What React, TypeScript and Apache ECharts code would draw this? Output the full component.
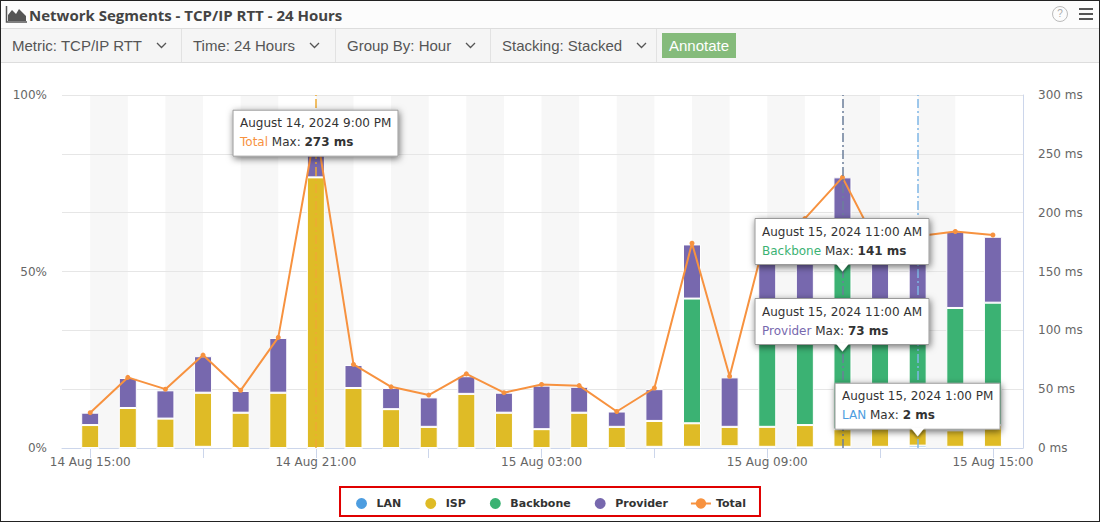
import React, { useEffect, useRef } from "react";
import * as echarts from "echarts";

// hour offsets from 14 Aug 15:00 (one bar per hour, 25 bars)
const hours = [0, 1, 2, 3, 4, 5, 6, 7, 8, 9, 10, 11, 12, 13, 14, 15, 16, 17, 18, 19, 20, 21, 22, 23, 24];

// stacked segments, in ms
const lan = [0, 0, 0, 1, 0, 0, 0, 0, 0, 0, 0, 0, 0, 0, 0, 1, 1, 1.5, 1, 0.5, 1, 1, 2, 1, 1];
const isp = [19.5, 34, 25, 46, 30, 47, 230, 51, 33, 18, 46, 30, 16, 30, 18, 22, 20, 16.5, 17, 19, 15, 17, 16, 14, 18.5];
const backbone = [0, 0, 0, 0, 0, 0, 0, 0, 0, 0, 0, 0, 0, 0, 0, 0, 106, 0, 100, 105, 141, 92, 97, 104, 104];
const provider = [10.5, 25.5, 24, 31, 18.5, 46.5, 43, 19.5, 18, 25, 15, 17, 37, 22, 13, 27, 46, 42, 67, 70, 73, 58, 65, 65, 56];
const total = [30, 60, 50, 79, 49, 94, 273, 71, 52, 45, 63, 47, 54, 53, 31, 51, 174, 61, 185, 195, 230, 168, 180, 184, 181];

// x-axis ticks / labels
const tickHours = [0, 3, 6, 9, 12, 15, 18, 21, 24];
const labelHours = [0, 6, 12, 18, 24];
const xLabels = ["14 Aug 15:00", "14 Aug 21:00", "15 Aug 03:00", "15 Aug 09:00", "15 Aug 15:00"];

// left axis labels (percent) on the ms scale
const leftLabelValues = [0, 150, 300];
const leftLabels = ["0%", "50%", "100%"];

// alternating shaded hour bands
const bands = [[0, 1], [2, 3], [4, 5], [6, 7], [8, 9], [10, 11], [12, 13], [14, 15], [16, 17], [18, 19], [20, 21], [22, 23]];

// highlighted hours (vertical dash-dot lines)
const markHours = [6, 20, 22];

const C = {
  lan: "#4d9de0",
  isp: "#dfbb26",
  backbone: "#3bb273",
  provider: "#7768ae",
  total: "#f7923f",
};

// pinned tooltips: hour, anchor value (ms), date text, series, value text
const tips = [
  { hour: 6, anchor: 248, date: "August 14, 2024 9:00 PM", series: "Total", color: C.total, value: "273 ms", arrow: false },
  { hour: 20, anchor: 150, date: "August 15, 2024 11:00 AM", series: "Backbone", color: C.backbone, value: "141 ms", arrow: true },
  { hour: 20, anchor: 82, date: "August 15, 2024 11:00 AM", series: "Provider", color: C.provider, value: "73 ms", arrow: true },
  { hour: 22, anchor: 10, date: "August 15, 2024 1:00 PM", series: "LAN", color: C.lan, value: "2 ms", arrow: true },
];

const FONT = "DejaVu Sans";

function Chevron() {
  return (
    <svg width="11" height="7" style={{ marginLeft: 14, flex: "none" }}>
      <polyline points="1,1 5.5,5.5 10,1" fill="none" stroke="#555" strokeWidth="1.3" />
    </svg>
  );
}

function Chart() {
  const elRef = useRef<HTMLDivElement | null>(null);

  useEffect(() => {
    if (!elRef.current) return;
    const chart = echarts.init(elRef.current, null, { renderer: "svg" });

    // value first so the stack runs along y
    const bar = (name: string, data: number[], color: string) => ({
      name,
      type: "bar",
      stack: "rtt",
      barWidth: 18,
      z: 2,
      encode: { x: 1, y: 0 },
      itemStyle: { color, borderColor: "#fff", borderWidth: 1 },
      data: hours.map((h, i) => [data[i], h]),
    });

    const option: any = {
      animation: false,
      textStyle: { fontFamily: FONT },
      grid: { left: 61, right: 76, top: 32, bottom: 73 },
      xAxis: {
        type: "value",
        min: -0.75,
        max: 24.8,
        z: 1,
        axisLine: { lineStyle: { color: "#ccd6eb" } },
        axisTick: { show: true, length: 10, customValues: tickHours, lineStyle: { color: "#ccd6eb" } },
        axisLabel: {
          customValues: labelHours,
          color: "#666",
          fontSize: 12,
          margin: 8,
          formatter: (v: number) => xLabels[labelHours.indexOf(v)] ?? "",
        },
        splitLine: { show: false },
      },
      yAxis: [
        {
          type: "value",
          min: 0,
          max: 300,
          interval: 50,
          z: 1,
          axisLine: { show: false },
          axisTick: { show: false },
          axisLabel: {
            color: "#666",
            fontSize: 12,
            margin: 15,
            formatter: (v: number) => {
              const i = leftLabelValues.indexOf(v);
              return i >= 0 ? leftLabels[i] : "";
            },
          },
          splitLine: { lineStyle: { color: "#e6e6e6" } },
        },
        {
          type: "value",
          min: 0,
          max: 300,
          interval: 50,
          position: "right",
          z: 1,
          axisLine: { show: true, lineStyle: { color: "#ccd6eb" } },
          axisTick: { show: false },
          axisLabel: { color: "#666", fontSize: 12, margin: 15, formatter: "{value} ms" },
          splitLine: { show: false },
        },
      ],
      legend: {
        top: 424,
        left: "center",
        itemWidth: 20,
        itemHeight: 13,
        itemGap: 22,
        padding: [9, 14, 5, 14],
        borderColor: "#e00000",
        borderWidth: 2,
        textStyle: { color: "#333", fontSize: 11, fontWeight: "bold", fontFamily: FONT },
        data: [
          { name: "LAN", icon: "circle" },
          { name: "ISP", icon: "circle" },
          { name: "Backbone", icon: "circle" },
          { name: "Provider", icon: "circle" },
          { name: "Total" },
        ],
      },
      series: [
        {
          type: "custom",
          silent: true,
          z: 0,
          encode: { x: [0, 1] },
          data: bands,
          renderItem: (params: any, api: any) => {
            const s = api.coord([api.value(0), 0]);
            const e = api.coord([api.value(1), 0]);
            const cs = params.coordSys;
            return {
              type: "rect",
              shape: { x: s[0], y: cs.y, width: e[0] - s[0], height: cs.height },
              style: { fill: "#f7f7f7" },
            };
          },
        },
        bar("LAN", lan, C.lan),
        bar("ISP", isp, C.isp),
        bar("Backbone", backbone, C.backbone),
        bar("Provider", provider, C.provider),
        {
          name: "Total",
          type: "line",
          z: 3,
          symbol: "circle",
          symbolSize: 5,
          itemStyle: { color: C.total },
          lineStyle: { color: C.total, width: 2 },
          data: hours.map((h, i) => [h, total[i]]),
          markLine: {
            silent: true,
            symbol: ["none", "none"],
            label: { show: false },
            lineStyle: { type: [9, 3, 2, 3], width: 1.5 },
            data: [
              { xAxis: markHours[0], lineStyle: { color: "#eeaa33" } },
              { xAxis: markHours[1], lineStyle: { color: "#6c7f9a" } },
              { xAxis: markHours[2], lineStyle: { color: "#7fb6e6" } },
            ],
          },
        },
      ],
    };

    chart.setOption(option);

    // pinned tooltip boxes
    const ctx = document.createElement("canvas").getContext("2d")!;
    const measure = (font: string, s: string) => {
      ctx.font = font;
      return ctx.measureText(s).width;
    };
    const graphics: any[] = [];
    tips.forEach((t) => {
      const [px, py] = chart.convertToPixel({ gridIndex: 0 }, [t.hour, t.anchor]) as number[];
      const w1 = measure(`12px "${FONT}"`, t.date);
      const w2 = measure(`12px "${FONT}"`, `${t.series} Max: `) + measure(`bold 12px "${FONT}"`, t.value);
      const w = Math.round(Math.max(w1, w2) + 14);
      const h = 46;
      const bottom = py - (t.arrow ? 7 : 0);
      const left = Math.round(px - w / 2);
      const top = bottom - h;
      graphics.push({
        type: "rect",
        z: 100,
        shape: { x: left, y: top, width: w, height: h },
        style: {
          fill: "#fff",
          stroke: "#9a9a9a",
          lineWidth: 1,
          shadowBlur: 7,
          shadowColor: "rgba(0,0,0,0.55)",
          shadowOffsetX: 1,
          shadowOffsetY: 2,
        },
      });
      if (t.arrow) {
        graphics.push({
          type: "polygon",
          z: 101,
          shape: { points: [[px - 7, bottom - 1.5], [px + 7, bottom - 1.5], [px, py]] },
          style: { fill: "#fff", shadowBlur: 3, shadowColor: "rgba(0,0,0,0.45)", shadowOffsetY: 2 },
        });
      }
      graphics.push({
        type: "text",
        z: 102,
        x: left + 7,
        y: top + 13,
        style: { text: t.date, fontSize: 12, fontFamily: FONT, fill: "#333", verticalAlign: "middle" },
      });
      graphics.push({
        type: "text",
        z: 102,
        x: left + 7,
        y: top + 32,
        style: {
          text: `{s|${t.series}} Max: {b|${t.value}}`,
          fontSize: 12,
          fontFamily: FONT,
          fill: "#333",
          verticalAlign: "middle",
          rich: {
            s: { fill: t.color, fontSize: 12, fontFamily: FONT },
            b: { fill: "#333", fontSize: 12, fontFamily: FONT, fontWeight: "bold" },
          },
        },
      });
    });
    chart.setOption({ graphic: { elements: graphics } });

    return () => chart.dispose();
  }, []);

  return <div ref={elRef} style={{ width: 1098, height: 458 }} />;
}

export default function App() {
  const toolItem: React.CSSProperties = {
    display: "flex",
    alignItems: "center",
    height: "100%",
    padding: "0 8px 0 11px",
    borderRight: "1px solid #e2e2e2",
    boxSizing: "border-box",
    whiteSpace: "nowrap",
    flex: "none",
  };
  return (
    <div
      style={{
        position: "absolute",
        left: 0,
        top: 0,
        width: 1098,
        height: 520,
        border: "1px solid #222",
        background: "#fff",
        overflow: "hidden",
      }}
    >
      <div
        style={{
          height: 27,
          borderBottom: "1px solid #ddd",
          display: "flex",
          alignItems: "center",
          position: "relative",
          background: "#fcfcfc",
        }}
      >
        <svg width="22" height="17" style={{ marginLeft: 4, marginRight: 2 }}>
          <polygon points="3,15 3,9 7,4 11,8 14,3 21,10 21,15" fill="#555" />
          <polyline points="1.5,0 1.5,16 22,16" fill="none" stroke="#555" strokeWidth="1.5" />
        </svg>
        <span style={{ fontFamily: "Open Sans", fontWeight: 700, fontSize: 15, color: "#444" }}>
          Network Segments - TCP/IP RTT - 24 Hours
        </span>
        <div
          style={{
            position: "absolute",
            left: 1051,
            top: 5,
            width: 14,
            height: 14,
            borderRadius: "50%",
            border: "1px solid #bbb",
            color: "#aaa",
            fontSize: 10,
            fontFamily: "Liberation Sans",
            textAlign: "center",
            lineHeight: "14px",
          }}
        >
          ?
        </div>
        <div style={{ position: "absolute", left: 1078, top: 7 }}>
          {[0, 5, 10].map((y) => (
            <div key={y} style={{ position: "absolute", top: y, width: 14, height: 2, background: "#555" }} />
          ))}
        </div>
      </div>
      <div
        style={{
          height: 33,
          borderBottom: "1px solid #ddd",
          background: "#f5f5f5",
          display: "flex",
          alignItems: "center",
          fontFamily: "Liberation Sans",
          fontSize: 15,
          color: "#555",
        }}
      >
        <div style={{ ...toolItem, width: 181 }}>
          Metric: TCP/IP RTT
          <Chevron />
        </div>
        <div style={{ ...toolItem, width: 154 }}>
          Time: 24 Hours
          <Chevron />
        </div>
        <div style={{ ...toolItem, width: 155 }}>
          Group By: Hour
          <Chevron />
        </div>
        <div style={{ ...toolItem, width: 166 }}>
          Stacking: Stacked
          <Chevron />
        </div>
        <div
          style={{
            marginLeft: 5,
            height: 25,
            padding: "0 7px",
            background: "#85bb7b",
            color: "#fff",
            display: "flex",
            alignItems: "center",
            flex: "none",
          }}
        >
          Annotate
        </div>
      </div>
      <Chart />
    </div>
  );
}
